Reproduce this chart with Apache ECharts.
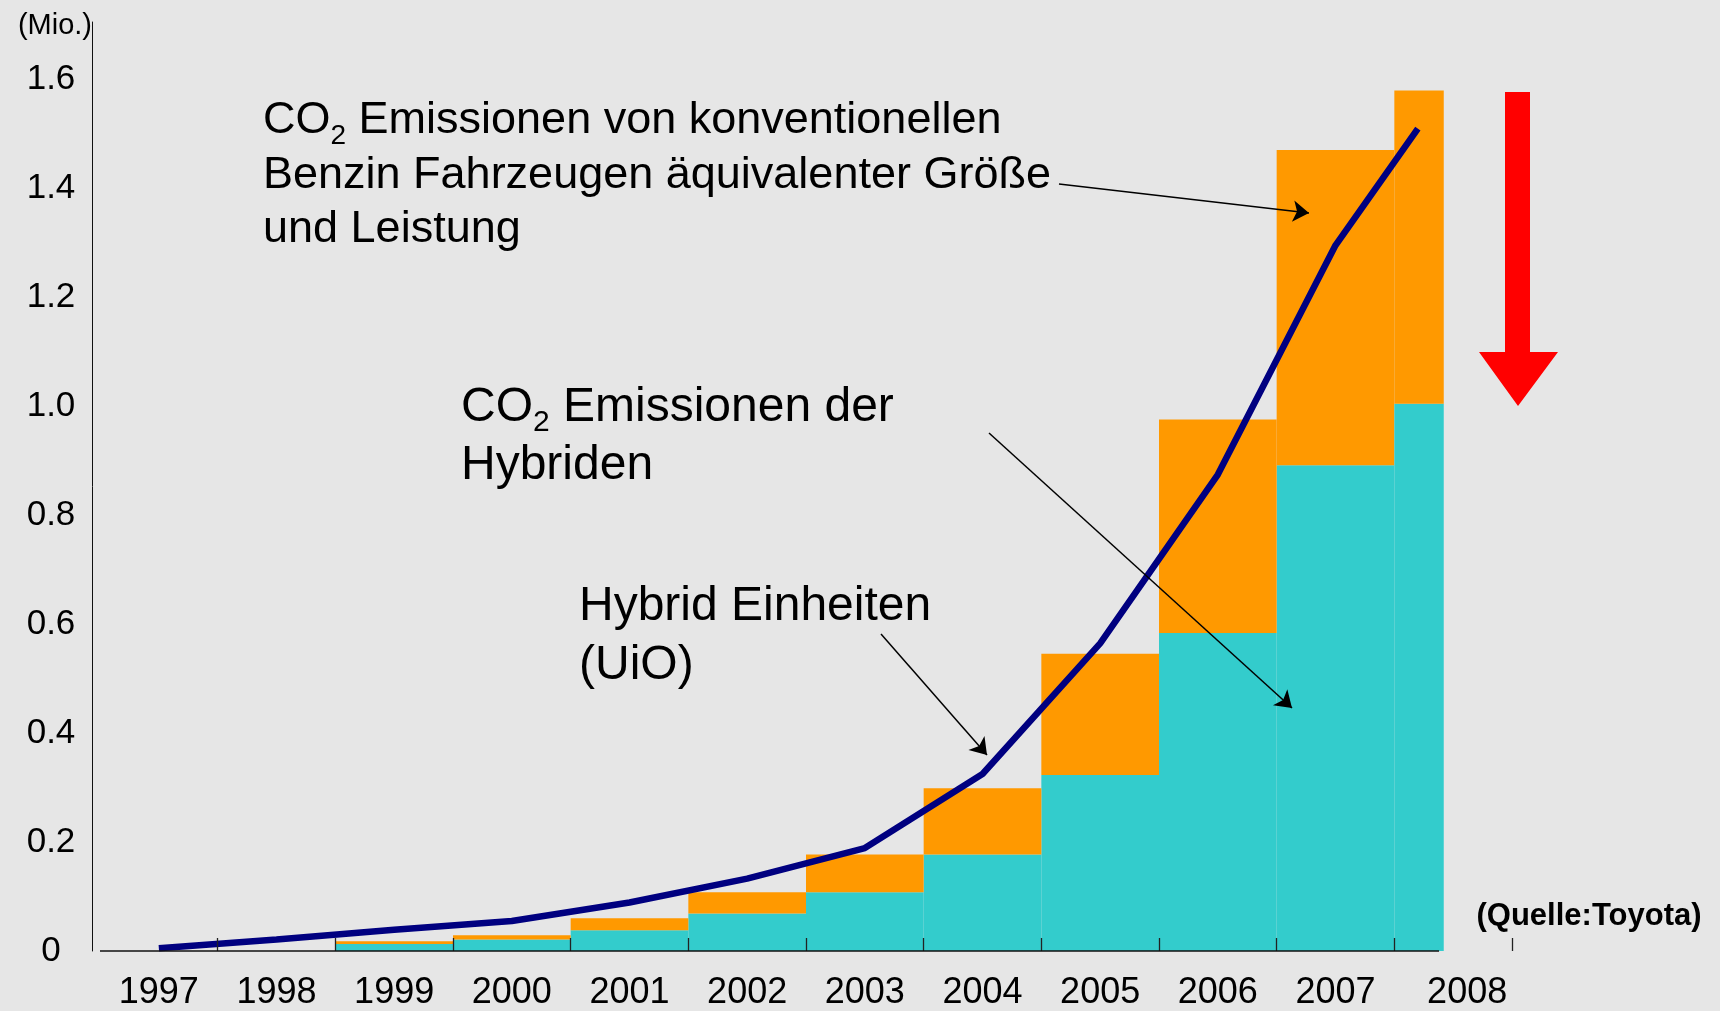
<!DOCTYPE html>
<html>
<head>
<meta charset="utf-8">
<script src="https://cdn.jsdelivr.net/npm/echarts@6/dist/echarts.min.js"></script>
<style>
  html, body { margin: 0; padding: 0; background: #e6e6e6; }
  #main { width: 1720px; height: 1011px; }
</style>
</head>
<body>
<div id="main"></div>
<script>
var years = ['1997','1998','1999','2000','2001','2002','2003','2004','2005','2006','2007','2008'];
// Hybrid Einheiten (UiO), Mio. - x position of each point in years
var unitsX = [1997, 1998, 1999, 2000, 2001, 2002, 2003, 2004, 2005, 2006, 2007, 2007.7];
var unitsInOperation = [0.005, 0.021, 0.039, 0.055, 0.089, 0.133, 0.189, 0.325, 0.565, 0.875, 1.296, 1.510];
// CO2 konventionelle Fahrzeuge (orange, gesamt) und Hybride (tuerkis)
var co2Conventional = [null, null, 0.018, 0.029, 0.060, 0.108, 0.177, 0.299, 0.546, 0.976, 1.471, 1.580];
var co2Hybrid = [null, null, 0.013, 0.021, 0.038, 0.069, 0.108, 0.177, 0.323, 0.584, 0.892, 1.005];
// the x axis stops inside the (cut off) 2008 column
var axisStart = 1996.5, axisEnd = 2007.88;

var FONT = '"Liberation Sans", Arial, sans-serif';
var last = years.length - 1;

// 2008 is only half drawn in the picture, so it sits on its own (hidden) axis
var diff = co2Conventional.map(function (v, i) {
  return v == null ? null : +(v - co2Hybrid[i]).toFixed(3);
});
var mainCyan = co2Hybrid.map(function (v, i) { return i < last ? v : null; });
var mainOrange = diff.map(function (v, i) { return i < last ? v : null; });
var endCyan = co2Hybrid.map(function (v, i) { return i === last ? v : null; });
var endOrange = diff.map(function (v, i) { return i === last ? v : null; });
var empty = years.map(function () { return null; });

var chart = echarts.init(document.getElementById('main'));

var texts = [
  { type: 'text', z: 10,
    style: {
      x: 263, y: 121, verticalAlign: 'middle',
      text: '{n|CO}{s|2}{n| Emissionen von konventionellen}',
      rich: {
        n: { fontSize: 45, fontFamily: FONT, fill: '#000', lineHeight: 50 },
        s: { fontSize: 28, fontFamily: FONT, fill: '#000', lineHeight: 58, verticalAlign: 'bottom' }
      }
    } },
  { type: 'text', z: 10, style: { x: 263, y: 176, verticalAlign: 'middle', text: 'Benzin Fahrzeugen äquivalenter Größe', fontSize: 45, fontFamily: FONT, fill: '#000' } },
  { type: 'text', z: 10, style: { x: 263, y: 230, verticalAlign: 'middle', text: 'und Leistung', fontSize: 45, fontFamily: FONT, fill: '#000' } },
  { type: 'text', z: 10,
    style: {
      x: 461, y: 408, verticalAlign: 'middle',
      text: '{n|CO}{s|2}{n| Emissionen der}',
      rich: {
        n: { fontSize: 48, fontFamily: FONT, fill: '#000', lineHeight: 52 },
        s: { fontSize: 30, fontFamily: FONT, fill: '#000', lineHeight: 60, verticalAlign: 'bottom' }
      }
    } },
  { type: 'text', z: 10, style: { x: 461, y: 466, verticalAlign: 'middle', text: 'Hybriden', fontSize: 48, fontFamily: FONT, fill: '#000' } },
  { type: 'text', z: 10, style: { x: 579, y: 607, verticalAlign: 'middle', text: 'Hybrid Einheiten', fontSize: 48, fontFamily: FONT, fill: '#000' } },
  { type: 'text', z: 10, style: { x: 579, y: 666, verticalAlign: 'middle', text: '(UiO)', fontSize: 48, fontFamily: FONT, fill: '#000' } },
  { type: 'text', z: 10, style: { x: 1589, y: 916, align: 'center', verticalAlign: 'middle', text: '(Quelle:Toyota)', fontSize: 31, fontWeight: 'bold', fontFamily: FONT, fill: '#000' } },
  { type: 'polygon', z: 10,
    shape: { points: [[1505, 92], [1530, 92], [1530, 352], [1558, 352], [1518, 406], [1479, 352], [1505, 352]] },
    style: { fill: '#ff0000' } }
];

var option = {
  backgroundColor: '#e6e6e6',
  animation: false,
  grid: { left: 100, right: 208, top: 22, bottom: 54 },
  xAxis: [
    {
      type: 'category',
      data: years,
      boundaryGap: true,
      z: 5,
      axisLine: { show: false },
      axisTick: {
        show: true, inside: true, length: 13,
        interval: function (i) { return i !== 0; },
        lineStyle: { color: '#222', width: 1.3 }
      },
      axisLabel: {
        interval: 0,
        color: '#000', fontSize: 36, fontFamily: FONT, margin: 24,
        formatter: function (v, i) { return i === last ? '{e|' + v + '}' : v; },
        rich: { e: { fontSize: 36, fontFamily: FONT, color: '#000', padding: [0, 0, 10, 28] } }
      },
      splitLine: { show: false }
    },
    { type: 'category', data: years, show: false },
    { type: 'value', min: 1996.5, max: 2008.5, show: false }
  ],
  yAxis: {
    type: 'value',
    min: 0,
    max: 1.706,
    interval: 0.2,
    offset: 8,
    name: '(Mio.)',
    nameLocation: 'end',
    nameGap: -4,
    nameTextStyle: { color: '#000', fontSize: 29, fontFamily: FONT, align: 'right', verticalAlign: 'middle' },
    axisLine: { show: true, lineStyle: { color: '#111', width: 1 } },
    axisTick: { show: false },
    splitLine: { show: false },
    axisLabel: {
      color: '#000', fontSize: 35, fontFamily: FONT, margin: 41, align: 'center',
      showMaxLabel: false,
      formatter: function (v) { return v === 0 ? '0' : v.toFixed(1); }
    }
  },
  series: [
    { type: 'bar', xAxisIndex: 0, stack: 'co2', barWidth: '100%', data: mainCyan, itemStyle: { color: '#33cccc' } },
    { type: 'bar', xAxisIndex: 0, stack: 'co2', barWidth: '100%', data: mainOrange, itemStyle: { color: '#ff9900' } },
    { type: 'bar', xAxisIndex: 1, stack: 'end', barWidth: '42%', barGap: 0, data: endCyan, itemStyle: { color: '#33cccc' } },
    { type: 'bar', xAxisIndex: 1, stack: 'end', barWidth: '42%', barGap: 0, data: endOrange, itemStyle: { color: '#ff9900' } },
    { type: 'bar', xAxisIndex: 1, stack: 'pad', barWidth: '58%', barGap: 0, data: empty },
    {
      type: 'line',
      xAxisIndex: 2,
      z: 4,
      symbol: 'none',
      lineStyle: { color: '#000080', width: 6.5 },
      data: unitsX.map(function (x, i) { return [x, unitsInOperation[i]]; }),
      markLine: {
        silent: true,
        symbol: ['none', 'arrow'],
        symbolSize: 16,
        label: { show: false },
        lineStyle: { color: '#000', width: 1.5, type: 'solid' },
        data: [
          [{ x: 1059, y: 184 }, { x: 1309, y: 213 }],
          [{ x: 989, y: 433 }, { x: 1292, y: 708 }],
          [{ x: 881, y: 634 }, { x: 987, y: 755 }]
        ]
      }
    }
  ],
  graphic: texts
};

chart.setOption(option);

// x axis line, from the start of 1997 to where the 2008 column is cut
var a = chart.convertToPixel({ seriesIndex: 5 }, [axisStart, 0]);
var b = chart.convertToPixel({ seriesIndex: 5 }, [axisEnd, 0]);
chart.setOption({
  graphic: texts.concat([{
    type: 'line', z: 6,
    shape: { x1: a[0], y1: a[1], x2: b[0], y2: b[1] },
    style: { stroke: '#111', lineWidth: 1.5 }
  }])
});
</script>
</body>
</html>
